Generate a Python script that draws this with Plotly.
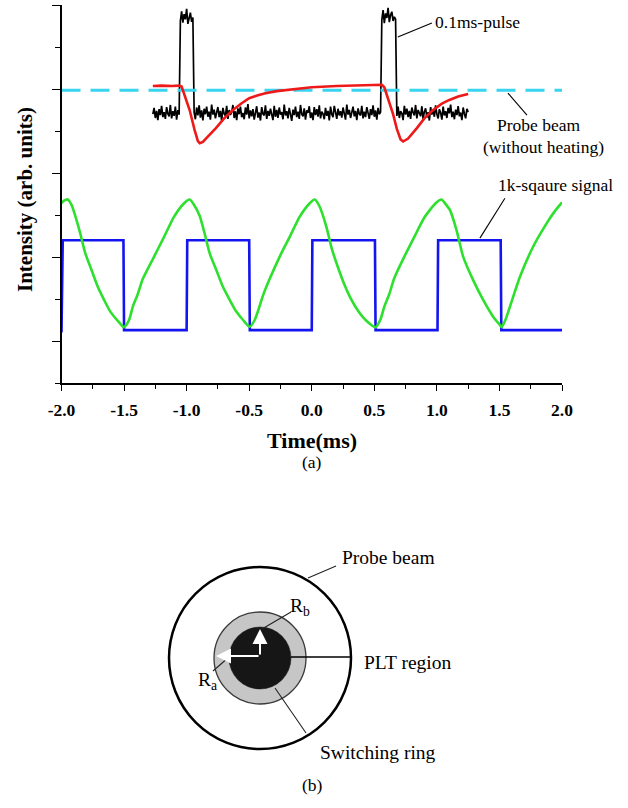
import numpy as np
import plotly.graph_objects as go

W, H = 628, 808
SERIF = "Liberation Serif"

# ---------------- panel (a) data ----------------
x_ticks = [-2.0, -1.5, -1.0, -0.5, 0.0, 0.5, 1.0, 1.5, 2.0]
x_tick_labels = ["-2.0", "-1.5", "-1.0", "-0.5", "0.0", "0.5", "1.0", "1.5", "2.0"]
y_major_ticks = [1, 3, 5, 7, 9]

# probe beam without heating (dashed reference level)
probe_t = [-2.0, 2.0]
probe_y = [6.97, 6.97]

# 1k square signal
square_t = [-2.00, -1.99, -1.505, -1.50, -1.00, -0.995, -0.50, -0.495, 0.00, 0.005,
            0.505, 0.51, 1.005, 1.01, 1.51, 1.515, 2.00]
square_y = [1.20, 3.40, 3.40, 1.26, 1.26, 3.40, 3.40, 1.26, 1.26, 3.40,
            3.40, 1.26, 1.26, 3.40, 3.40, 1.26, 1.26]

# response to the square signal (green)
green_t = [-2.00, -1.98, -1.95, -1.92, -1.89, -1.85, -1.81, -1.76, -1.71, -1.66, -1.61, -1.55, -1.50,
           -1.46, -1.43, -1.39, -1.35, -1.26, -1.18, -1.10, -1.02, -0.976,
           -0.94, -0.896, -0.856, -0.816, -0.763, -0.71, -0.656, -0.603, -0.549, -0.496,
           -0.456, -0.42, -0.39, -0.336, -0.256, -0.176, -0.096, -0.016, 0.024,
           0.06, 0.117, 0.16, 0.21, 0.26, 0.31, 0.37, 0.43, 0.51,
           0.55, 0.58, 0.62, 0.66, 0.74, 0.82, 0.90, 0.99, 1.037,
           1.07, 1.104, 1.157, 1.21, 1.29, 1.37, 1.45, 1.504, 1.517,
           1.55, 1.584, 1.664, 1.77, 1.877, 1.94, 2.00]
green_y = [4.28, 4.34, 4.37, 4.24, 3.98, 3.56, 3.09, 2.69, 2.29, 1.98, 1.70, 1.48, 1.33,
           1.50, 1.82, 2.12, 2.48, 3.01, 3.48, 3.96, 4.28, 4.37,
           4.24, 3.98, 3.56, 3.09, 2.69, 2.29, 1.98, 1.70, 1.50, 1.34,
           1.50, 1.80, 2.08, 2.48, 3.01, 3.48, 3.96, 4.28, 4.37,
           4.22, 3.72, 3.20, 2.75, 2.35, 2.02, 1.72, 1.50, 1.33,
           1.52, 1.82, 2.12, 2.50, 3.01, 3.48, 3.94, 4.28, 4.37,
           4.26, 4.12, 3.64, 3.01, 2.45, 1.98, 1.58, 1.38, 1.33,
           1.52, 1.82, 2.53, 3.25, 3.80, 4.08, 4.30]

# 0.1 ms heating pulse trace (black), sampled every 0.01 ms from -1.27 ms
pulse_t0 = -1.27
pulse_dt = 0.01
pulse_y = [
    6.40, 6.55, 6.31, 6.48, 6.26, 6.52, 6.38, 6.60, 6.33, 6.45,
    6.29, 6.57, 6.41, 6.35, 6.62, 6.30, 6.47, 6.36, 6.58, 6.27,
    6.50, 6.39,
    8.62, 8.85, 8.58, 8.78, 8.66, 8.91, 8.55, 8.74, 8.82, 8.60, 8.70,
    6.44, 6.28, 6.56, 6.37, 6.61, 6.32, 6.49, 6.25, 6.53, 6.40,
    6.58, 6.34, 6.46, 6.27, 6.63, 6.39, 6.51, 6.30, 6.44, 6.57,
    6.33, 6.48, 6.24, 6.55, 6.41, 6.36, 6.60, 6.29, 6.50, 6.38,
    6.45, 6.62, 6.31, 6.47, 6.26, 6.54, 6.40, 6.58, 6.33, 6.43,
    6.28, 6.56, 6.39, 6.64, 6.30, 6.49, 6.35, 6.52, 6.27, 6.46,
    6.59, 6.32, 6.44, 6.25, 6.57, 6.41, 6.37, 6.61, 6.29, 6.48,
    6.36, 6.53, 6.42, 6.26, 6.60, 6.34, 6.50, 6.31, 6.56, 6.39,
    6.45, 6.28, 6.63, 6.37, 6.47, 6.30, 6.55, 6.42, 6.24, 6.51,
    6.38, 6.58, 6.33, 6.46, 6.29, 6.62, 6.40, 6.35, 6.54, 6.27,
    6.49, 6.43, 6.59, 6.31, 6.44, 6.26, 6.57, 6.38, 6.52, 6.34,
    6.61, 6.30, 6.46, 6.41, 6.28, 6.55, 6.36, 6.48, 6.25, 6.58,
    6.40, 6.33, 6.60, 6.45, 6.29, 6.53, 6.37, 6.47, 6.32, 6.56,
    6.42, 6.27, 6.63, 6.39, 6.50, 6.31, 6.44, 6.58, 6.35, 6.48,
    6.26, 6.54, 6.41, 6.37, 6.60, 6.30, 6.46, 6.33, 6.57, 6.43,
    6.29, 6.52, 6.38, 6.61, 6.34, 6.49, 6.27, 6.55, 6.40, 6.45,
    8.64, 8.88, 8.57, 8.80, 8.69, 8.93, 8.59, 8.76, 8.84, 8.62, 8.72, 8.66,
    6.36, 6.58, 6.31, 6.47, 6.42, 6.26, 6.60, 6.39, 6.53, 6.33,
    6.48, 6.29, 6.56, 6.44, 6.37, 6.62, 6.30, 6.50, 6.41, 6.35,
    6.59, 6.28, 6.46, 6.54, 6.32, 6.45, 6.25, 6.57, 6.39, 6.49,
    6.34, 6.61, 6.40, 6.30, 6.52, 6.43, 6.27, 6.58, 6.37, 6.47,
    6.31, 6.55, 6.42, 6.63, 6.33, 6.46, 6.28, 6.51, 6.38, 6.59,
    6.35, 6.44, 6.26, 6.56, 6.41, 6.30, 6.53, 6.45,
]
pulse_t = np.round(pulse_t0 + pulse_dt * np.arange(len(pulse_y)), 4)

# probe beam with heating (red)
red_t = [-1.27, -1.20, -1.12, -1.06, -1.04, -1.01, -0.976, -0.936, -0.91, -0.895,
         -0.87, -0.846, -0.80, -0.766, -0.70, -0.63, -0.56, -0.50, -0.43, -0.37,
         -0.28, -0.15, 0.00, 0.20, 0.40, 0.56, 0.58, 0.62, 0.65, 0.68,
         0.71, 0.73, 0.77, 0.84, 0.90, 0.97, 1.04, 1.10, 1.17, 1.25]
red_y = [7.07, 7.08, 7.07, 7.08, 7.06, 6.80, 6.50, 6.02, 5.76, 5.71,
         5.74, 5.82, 5.95, 6.07, 6.30, 6.50, 6.66, 6.78, 6.85, 6.90,
         6.95, 7.00, 7.04, 7.07, 7.09, 7.10, 7.04, 6.70, 6.40, 6.05,
         5.80, 5.75, 5.82, 6.07, 6.30, 6.50, 6.65, 6.74, 6.82, 6.88]

# ---------------- panel (b) geometry (pixel units) ----------------
CX, CY = 260, 658
R_OUT, R_RING, R_CORE = 91, 46, 31


def px_x(p):
    return p / W


def px_y(p):
    return 1 - p / H


fig = go.Figure()
fig.add_trace(go.Scatter(x=square_t, y=square_y, mode="lines",
                         line=dict(color="#1414f0", width=2.6), hoverinfo="skip"))
fig.add_trace(go.Scatter(x=green_t, y=green_y, mode="lines",
                         line=dict(color="#2ee02e", width=2.6, shape="spline", smoothing=0.6),
                         hoverinfo="skip"))
fig.add_trace(go.Scatter(x=pulse_t, y=pulse_y, mode="lines",
                         line=dict(color="black", width=1.7), hoverinfo="skip"))
fig.add_trace(go.Scatter(x=probe_t, y=probe_y, mode="lines",
                         line=dict(color="#38d4f0", width=3, dash="19px,10px"), hoverinfo="skip"))
fig.add_trace(go.Scatter(x=red_t, y=red_y, mode="lines",
                         line=dict(color="#ee1a1a", width=2.6), hoverinfo="skip"))

shapes = []
annotations = []

# leader lines in panel (a)
for (x0, y0, x1, y1) in [(0.688, 8.24, 0.96, 8.57),
                         (1.568, 6.90, 1.72, 6.38),
                         (1.344, 3.45, 1.544, 4.40)]:
    shapes.append(dict(type="line", xref="x", yref="y", x0=x0, y0=y0, x1=x1, y1=y1,
                       line=dict(color="black", width=1.1)))

fa = dict(family=SERIF, size=17.5, color="black")
annotations += [
    dict(x=0.965, y=8.60, xref="x", yref="y", text="0.1ms-pulse", showarrow=False,
         xanchor="left", yanchor="middle", font=fa),
    dict(x=1.81, y=6.14, xref="x", yref="y", text="Probe beam", showarrow=False,
         xanchor="center", yanchor="middle", font=fa),
    dict(x=1.85, y=5.62, xref="x", yref="y", text="(without heating)", showarrow=False,
         xanchor="center", yanchor="middle", font=fa),
    dict(x=1.95, y=4.71, xref="x", yref="y", text="1k-sqaure signal", showarrow=False,
         xanchor="center", yanchor="middle", font=fa),
]

# axis titles and panel labels (paper coords)
annotations += [
    dict(x=px_x(312), y=px_y(440), xref="paper", yref="paper", text="<b>Time(ms)</b>",
         showarrow=False, font=dict(family=SERIF, size=22, color="black")),
    dict(x=px_x(25), y=px_y(200), xref="paper", yref="paper", text="<b>Intensity (arb. units)</b>",
         showarrow=False, textangle=-90, xanchor="center", yanchor="middle",
         font=dict(family=SERIF, size=21, color="black")),
    dict(x=px_x(312), y=px_y(462), xref="paper", yref="paper", text="(a)",
         showarrow=False, font=dict(family=SERIF, size=17.5, color="black")),
    dict(x=px_x(312), y=px_y(797), xref="paper", yref="paper", text="(b)",
         showarrow=False, font=dict(family=SERIF, size=17.5, color="black")),
]

# ---------------- panel (b) diagram ----------------
def circle(r, **kw):
    return dict(type="circle", xref="x2", yref="y2", x0=CX - r, x1=CX + r,
                y0=CY - r, y1=CY + r, **kw)


shapes += [
    circle(R_OUT, line=dict(color="black", width=2.5)),
    circle(R_RING, fillcolor="#c6c6c6", line=dict(color="#3a3a3a", width=1.3)),
    circle(R_CORE, fillcolor="#161616", line=dict(color="#161616", width=0.5)),
    dict(type="line", xref="x2", yref="y2", x0=CX + R_CORE, y0=CY - 1, x1=CX + R_OUT, y1=CY - 1,
         line=dict(color="black", width=1.3)),
]
for (x0, y0, x1, y1) in [(308, 578, 336, 566),   # probe beam
                         (291, 612, 262, 629),   # Rb
                         (213, 671, 229, 657),   # Ra
                         (275, 688, 306, 733)]:  # switching ring
    shapes.append(dict(type="line", xref="x2", yref="y2", x0=x0, y0=y0, x1=x1, y1=y1,
                       line=dict(color="#222", width=1.1)))

# white radius arrows
annotations += [
    dict(x=CX - R_RING + 2, y=CY - 2, ax=CX, ay=CY - 2, xref="x2", yref="y2", axref="x2", ayref="y2",
         text="", showarrow=True, arrowhead=2, arrowsize=1.5, arrowwidth=2, arrowcolor="white",
         standoff=0, startstandoff=0),
    dict(x=CX, y=CY - R_CORE + 2, ax=CX, ay=CY - 2, xref="x2", yref="y2", axref="x2", ayref="y2",
         text="", showarrow=True, arrowhead=2, arrowsize=1.5, arrowwidth=2, arrowcolor="white",
         standoff=0, startstandoff=0),
]

fb = dict(family=SERIF, size=19.5, color="black")
annotations += [
    dict(x=340, y=557, xref="x2", yref="y2", text="Probe beam", showarrow=False,
         xanchor="left", yanchor="middle", font=fb),
    dict(x=362, y=662, xref="x2", yref="y2", text="PLT region", showarrow=False,
         xanchor="left", yanchor="middle", font=fb),
    dict(x=318, y=752, xref="x2", yref="y2", text="Switching ring", showarrow=False,
         xanchor="left", yanchor="middle", font=fb),
    dict(x=300, y=607, xref="x2", yref="y2", text="R<sub>b</sub>", showarrow=False,
         xanchor="center", yanchor="middle", font=fb),
    dict(x=207, y=681, xref="x2", yref="y2", text="R<sub>a</sub>", showarrow=False,
         xanchor="center", yanchor="middle", font=fb),
]

X0, X1 = 61.5 / W, 562 / W
Y0, Y1 = 1 - 383 / H, 1 - 5 / H

fig.update_layout(
    template="none",
    width=W, height=H,
    margin=dict(l=0, r=0, t=0, b=0, pad=0, autoexpand=False),
    paper_bgcolor="white", plot_bgcolor="rgba(0,0,0,0)",
    showlegend=False,
    hovermode=False,
    font=dict(family=SERIF, color="black"),
    xaxis=dict(domain=[X0, X1], range=[-2, 2], anchor="y", automargin=False,
               tickmode="array", tickvals=x_ticks, ticktext=x_tick_labels,
               ticks="outside", ticklen=6, tickwidth=1.4, tickcolor="black",
               minor=dict(tick0=0, dtick=0.25, ticks="outside", ticklen=4, tickwidth=1.2, tickcolor="black"),
               showline=True, linecolor="black", linewidth=1.5, mirror=False,
               showgrid=False, zeroline=False, ticklabelstandoff=4,
               tickfont=dict(family=SERIF, size=17.5, color="black", weight="bold")),
    yaxis=dict(domain=[Y0, Y1], range=[0, 9], anchor="x", automargin=False,
               tickmode="array", tickvals=y_major_ticks, showticklabels=False,
               ticks="outside", ticklen=8, tickwidth=1.4, tickcolor="black",
               minor=dict(tick0=0, dtick=1, ticks="outside", ticklen=5, tickwidth=1.2, tickcolor="black"),
               showline=True, linecolor="black", linewidth=1.5,
               showgrid=False, zeroline=False),
    xaxis2=dict(domain=[0, 1], range=[0, W], anchor="y2", visible=False, fixedrange=True,
                automargin=False),
    yaxis2=dict(domain=[0, 260 / H], range=[H, H - 260], anchor="x2", visible=False, fixedrange=True,
                automargin=False),
    shapes=shapes,
    annotations=annotations,
)

fig.write_html("out.html", config={"displayModeBar": False},
               post_script="document.body.style.margin='0px';")
